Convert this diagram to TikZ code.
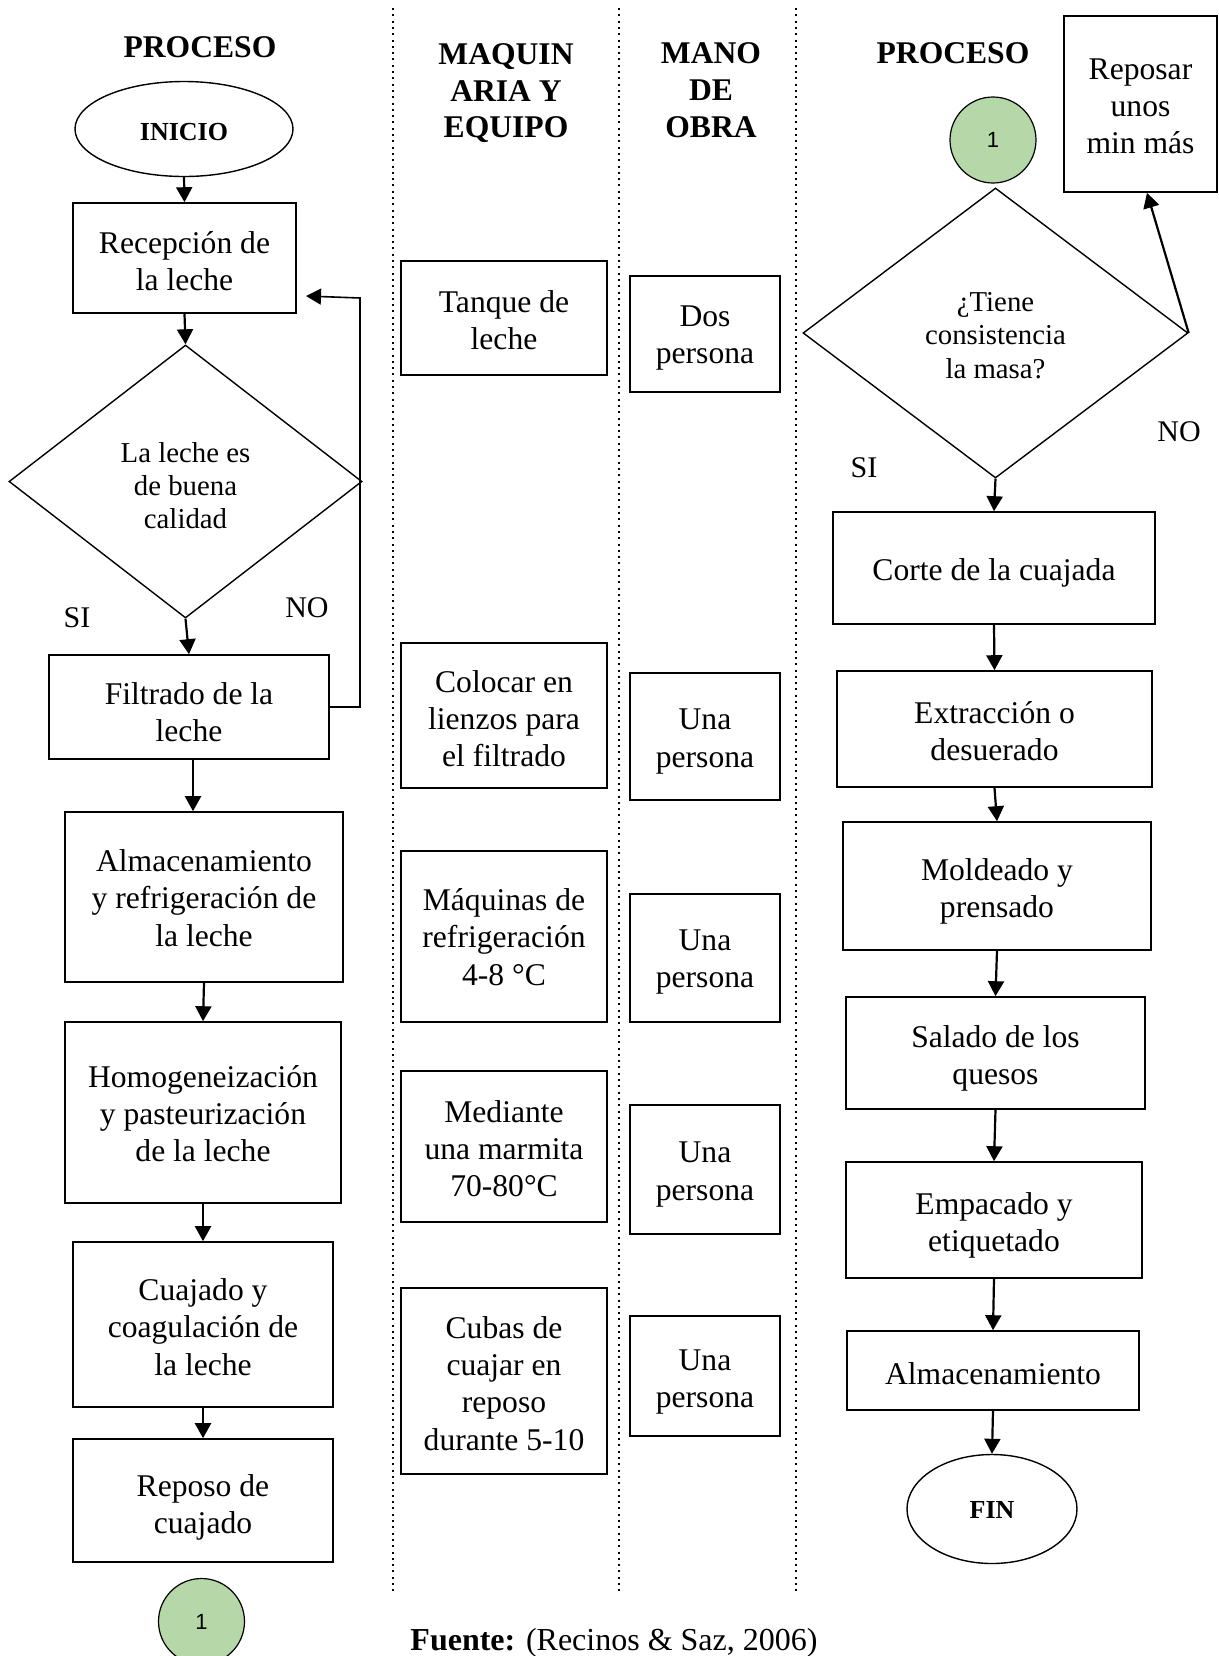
\documentclass[tikz,border=0pt]{standalone}
\usepackage{fontspec}
\setmainfont{Liberation Serif}
\newfontfamily\sansfam{Liberation Sans}
\usetikzlibrary{shapes.geometric,arrows.meta,calc}
\definecolor{conngreen}{RGB}{182,215,168}

% name, x1, y1, x2, y2, text shift (px, down), text
\newcommand\flowbox[7]{%
  \pgfmathsetmacro\myBW{(#4-#2)*0.5}%
  \pgfmathsetmacro\myBH{(#5-#3)*0.5}%
  \pgfmathsetmacro\myTS{-(#6)*0.5}%
  \node[pbox,minimum width=\myBW pt,minimum height=\myBH pt] (#1) at ({(#2+#4)/2},{(#3+#5)/2}) {};
  \node[ptext] (#1-txt) at ([yshift=\myTS pt]#1.center) {#7};}

\begin{document}
\begin{tikzpicture}[x=0.5pt,y=-0.5pt,
  pbox/.style={draw, line width=0.8pt, inner sep=0pt},
  ptext/.style={inner sep=0pt, align=center, font=\fontsize{15.8}{18.6}\selectfont},
  dia/.style={diamond, draw, line width=0.7pt, inner sep=0pt},
  diatext/.style={inner sep=0pt, align=center, font=\fontsize{14.4}{16.7}\selectfont},
  term/.style={ellipse, draw, line width=0.7pt, inner sep=0pt},
  termtext/.style={inner sep=0pt, font=\bfseries\fontsize{13}{15}\selectfont},
  conn/.style={circle, draw, line width=0.6pt, fill=conngreen, minimum size=43pt, inner sep=0pt, font=\sansfam\fontsize{11}{13}\selectfont},
  arr/.style={line width=1.1pt, -{Triangle[length=7.5pt,width=8pt]}},
  thinarr/.style={line width=0.8pt, -{Triangle[length=7.5pt,width=8pt]}},
  head/.style={font=\bfseries\fontsize{15.8}{18.4}\selectfont, align=center, inner sep=0pt},
  lbl/.style={font=\fontsize{15}{18}\selectfont, inner sep=0pt},
  lane/.style={line width=1pt, dash pattern=on 1pt off 2.15pt}]

\fill[white] (0,0) rectangle (1219,1656);
\useasboundingbox (0,0) rectangle (1219,1656);

% swim-lane separators
\coordinate (l1t) at (393,8);  \coordinate (l1b) at (393,1592);
\coordinate (l2t) at (619,8);  \coordinate (l2b) at (619,1592);
\coordinate (l3t) at (796,8);  \coordinate (l3b) at (796,1592);
\draw[lane] (l1t) -- (l1b);
\draw[lane] (l2t) -- (l2b);
\draw[lane] (l3t) -- (l3b);

% headings
\node[head,anchor=base] (hp1) at (200,57) {PROCESO};
\node[head,anchor=north] (hmaq) at (506,43) {MAQUIN\\ARIA Y\\EQUIPO};
\node[head,anchor=north] (hmo) at (711,42.5) {MANO\\DE\\OBRA};
\node[head,anchor=base] (hp2) at (953,63) {PROCESO};

% left process
\node[term,minimum width=109pt,minimum height=47.5pt] (inicio) at (184,129) {};
\node[termtext] (inicio-txt) at ([yshift=-1.5pt]inicio.center) {INICIO};
\flowbox{recep}{73}{203}{296}{313}{3}{Recepción de\\la leche}
\node[dia,minimum width=176.5pt,minimum height=136.5pt] (d1) at (185.5,481.5) {};
\node[diatext] (d1-txt) at ([yshift=-2.1pt]d1.center) {La leche es\\de buena\\calidad};
\flowbox{filt}{49}{655}{329}{759}{5}{Filtrado de la\\leche}
\flowbox{alm}{65}{812}{343}{982}{1}{Almacenamiento\\y refrigeración de\\la leche}
\flowbox{homo}{65}{1022}{341}{1203}{1}{Homogeneización\\y pasteurización\\de la leche}
\flowbox{cuaj}{73}{1242}{333}{1407}{2.5}{Cuajado y\\coagulación de\\la leche}
\flowbox{repo}{73}{1439}{333}{1562}{7}{Reposo de\\cuajado}
\node[conn] (c1) at (201.5,1621.5) {1};

\node[lbl] (si1) at (77,618) {SI};
\node[lbl] (no1) at (307,608) {NO};

\draw[arr] (inicio.south) -- (recep.north);
\draw[arr] (recep.south) -- (d1.north);
\draw[arr] (d1.south) -- (filt.north);
\draw[arr] ([xshift=2pt]filt.south) -- ([xshift=2pt]filt.south |- alm.north);
\draw[arr] (alm.south) -- (homo.north);
\draw[arr] (homo.south) -- (cuaj.north);
\draw[arr] (cuaj.south) -- (repo.north);
\coordinate (fbA) at (360,298);
\coordinate (fbB) at (306,296);
\draw[thinarr] (filt.east) -| (fbA) -- (fbB);

% machinery column
\flowbox{tanque}{401}{261}{607}{375}{2}{Tanque de\\leche}
\flowbox{colocar}{401}{643}{607}{788}{3}{Colocar en\\lienzos para\\el filtrado}
\flowbox{maq}{401}{851}{607}{1022}{0.5}{Máquinas de\\refrigeración\\4-8 °C}
\flowbox{med}{401}{1071}{607}{1222}{2}{Mediante\\una marmita\\70-80°C}
\flowbox{cubas}{401}{1288}{607}{1474}{2.5}{Cubas de\\cuajar en\\reposo\\durante 5-10}

% labour column
\flowbox{mo1}{630}{276}{780}{392}{4}{Dos\\persona}
\flowbox{mo2}{630}{673}{780}{800}{5}{Una\\persona}
\flowbox{mo3}{630}{894}{780}{1022}{4}{Una\\persona}
\flowbox{mo4}{630}{1105}{780}{1234}{5}{Una\\persona}
\flowbox{mo5}{630}{1316}{780}{1436}{6}{Una\\persona}

% right process
\node[conn] (c2) at (993,140) {1};
\flowbox{reposar}{1064}{16}{1217}{192}{2.5}{Reposar\\unos\\min más}
\node[dia,minimum width=192.5pt,minimum height=145pt] (d2) at (995.5,333) {};
\node[diatext] (d2-txt) at ([yshift=-1.25pt]d2.center) {¿Tiene\\consistencia\\la masa?};
\flowbox{corte}{833}{512}{1155}{624}{5}{Corte de la cuajada}
\flowbox{extr}{837}{671}{1152}{787}{2.5}{Extracción o\\desuerado}
\flowbox{mold}{843}{822}{1151}{950}{5}{Moldeado y\\prensado}
\flowbox{sal}{846}{997}{1145}{1109}{5}{Salado de los\\quesos}
\flowbox{emp}{846}{1162}{1142}{1278}{5}{Empacado y\\etiquetado}
\flowbox{almf}{847}{1331}{1139}{1410}{3}{Almacenamiento}
\node[term,minimum width=85pt,minimum height=54.5pt] (fin) at (992,1509) {};
\node[termtext] (fin-txt) at ([yshift=-0.5pt]fin.center) {FIN};

\node[lbl] (si2) at (864,468) {SI};
\node[lbl] (no2) at (1179,432) {NO};

\draw[arr] (d2.east) -- ([xshift=3.25pt]reposar.south);
\draw[arr] (d2.south) -- (corte.north);
\draw[arr] (corte.south) -- (extr.north);
\draw[arr] (extr.south) -- (mold.north);
\draw[arr] (mold.south) -- (sal.north);
\draw[arr] (sal.south) -- (emp.north);
\draw[arr] (emp.south) -- (almf.north);
\draw[arr] (almf.south) -- (fin.north);

% source
\node[anchor=base, inner sep=0pt, font=\fontsize{16}{19}\selectfont] (fuente) at (614,1650) {\textbf{Fuente:} (Recinos \& Saz, 2006)};
\end{tikzpicture}
\end{document}
